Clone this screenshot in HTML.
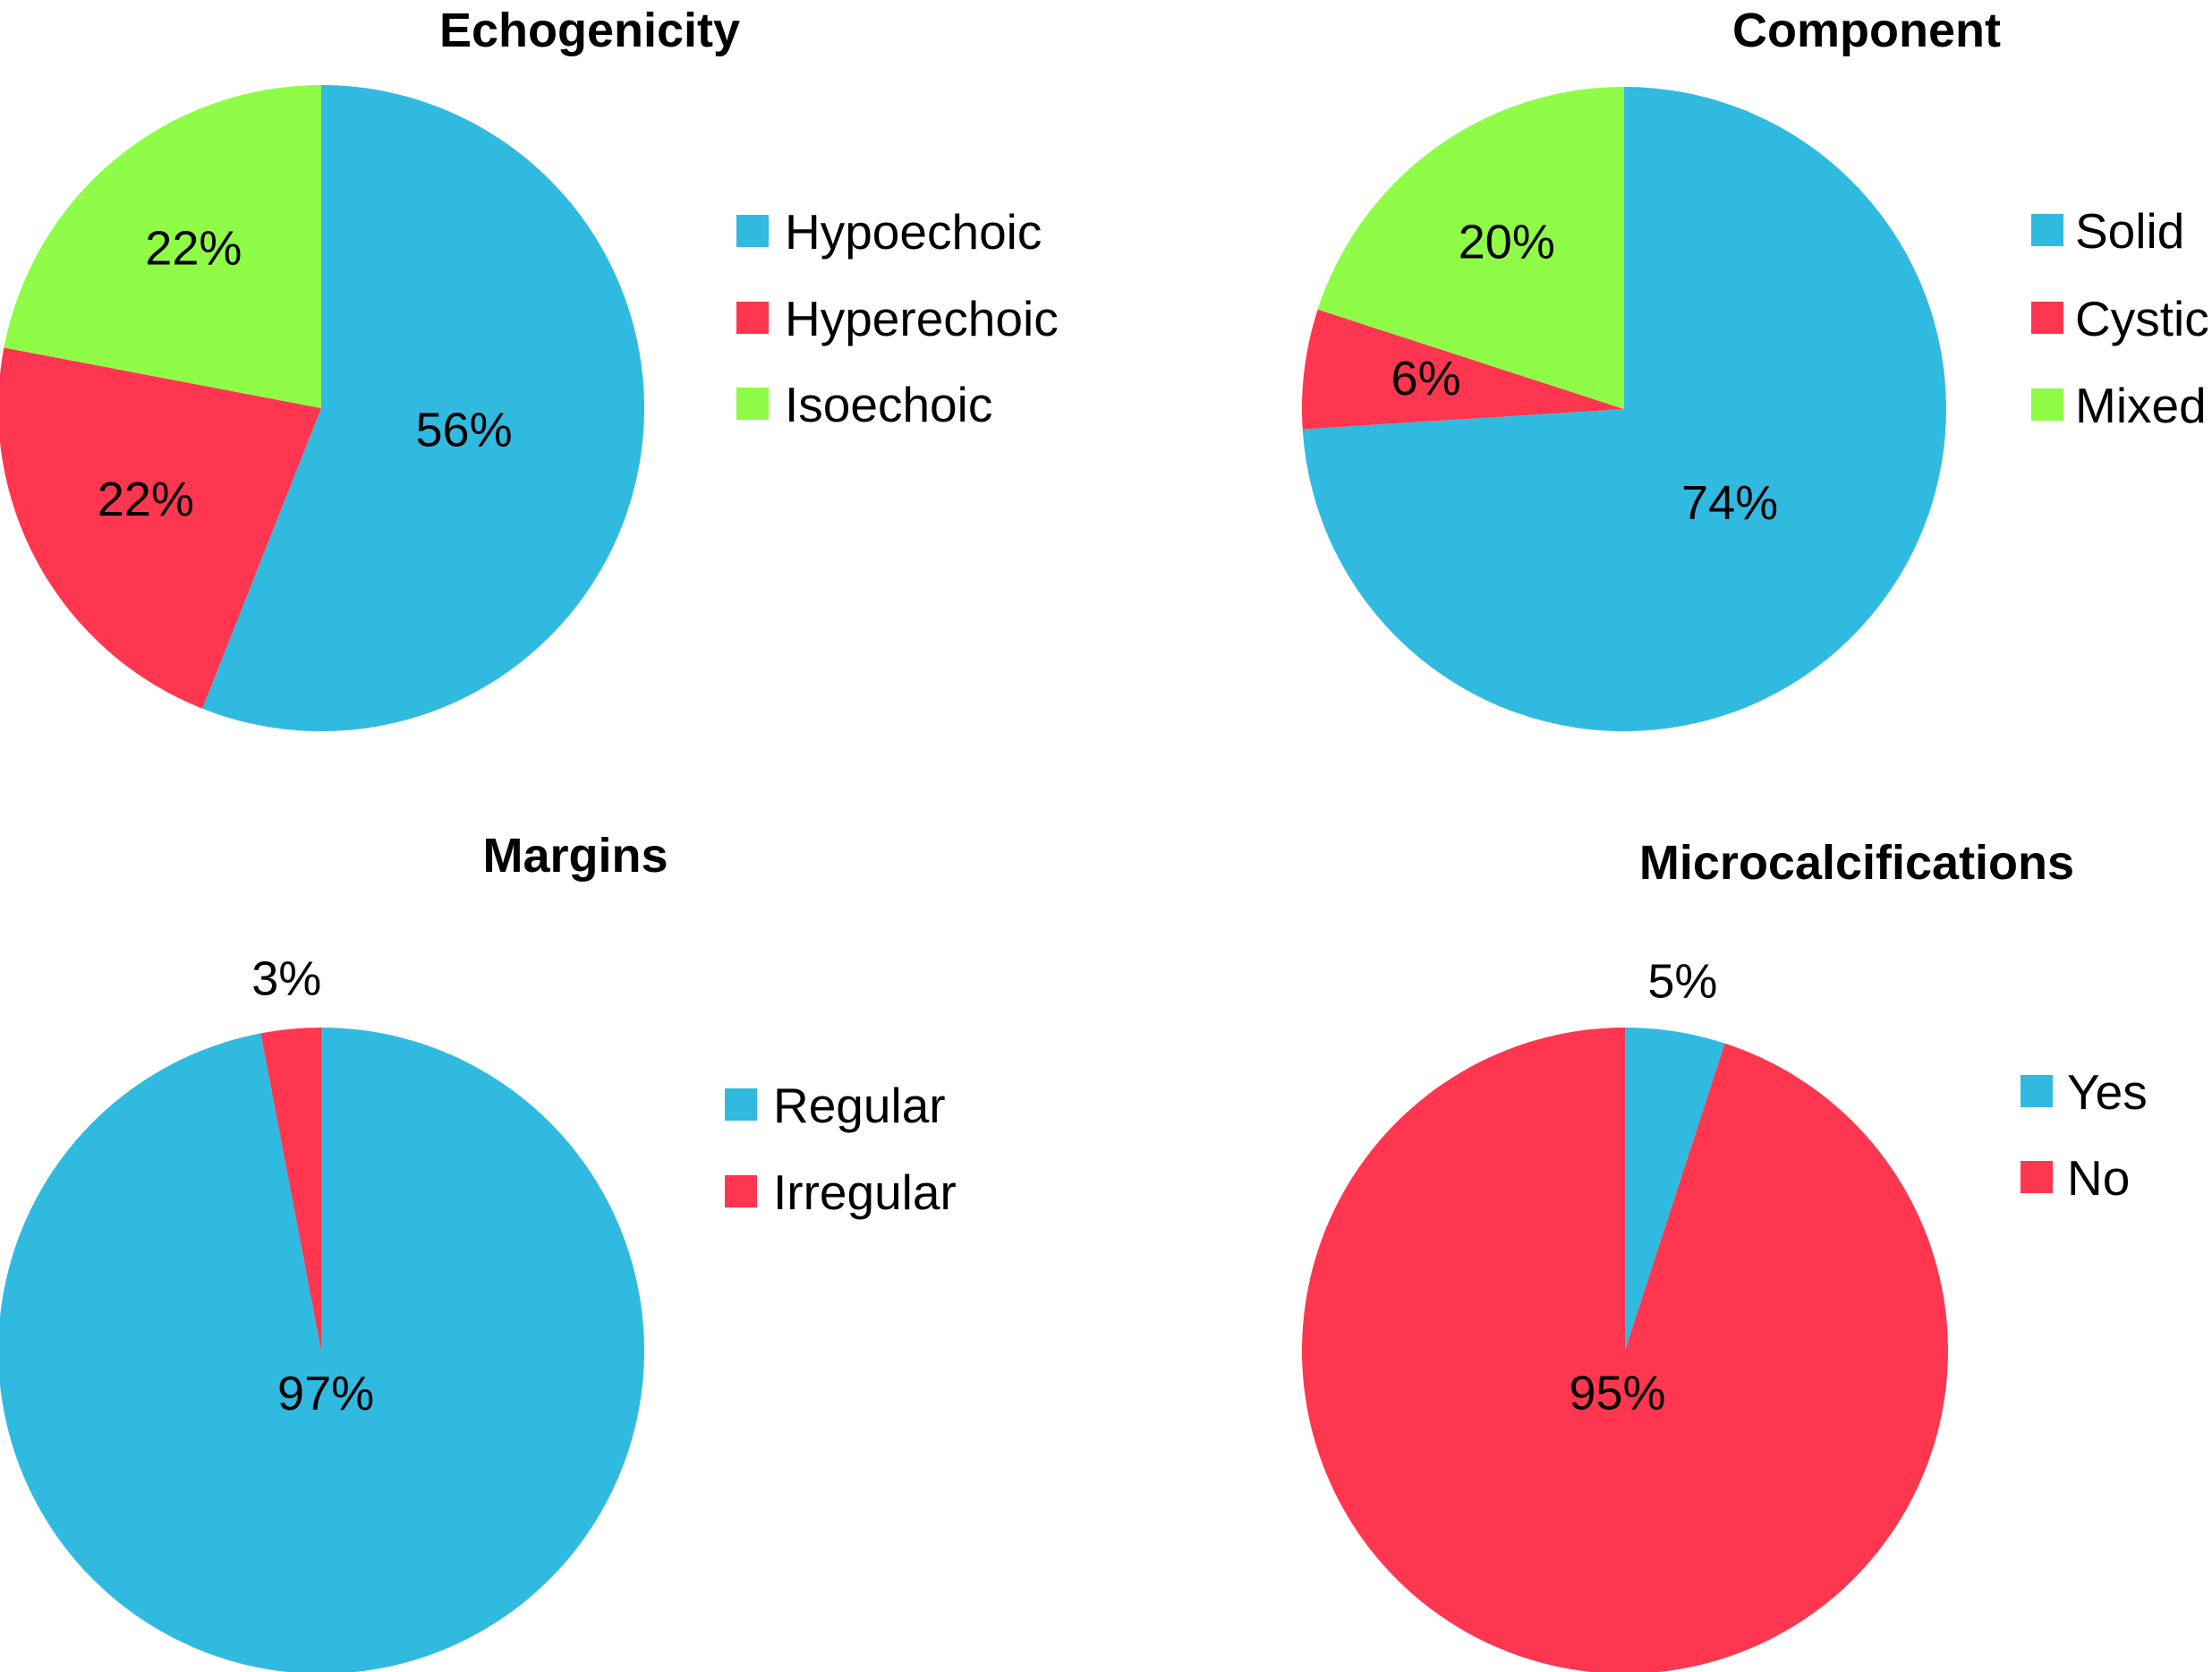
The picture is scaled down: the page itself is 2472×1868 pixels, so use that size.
<!DOCTYPE html>
<html><head><meta charset="utf-8">
<style>
html,body{margin:0;padding:0;background:#fff;}
svg{display:block;font-family:"Liberation Sans",sans-serif;}
</style></head>
<body>
<svg id="chart" width="2472" height="1868" viewBox="0 0 2472 1868"></svg>
<script>
const titles = ["Echogenicity", "Component", "Margins", "Microcalcifications"];
const categories1 = ["Hypoechoic", "Hyperechoic", "Isoechoic"];
const values1 = [56, 22, 22];
const categories2 = ["Solid", "Cystic", "Mixed"];
const values2 = [74, 6, 20];
const categories3 = ["Regular", "Irregular"];
const values3 = [97, 3];
const categories4 = ["Yes", "No"];
const values4 = [5, 95];

const colors = ["#31BAE0", "#FF364F", "#8FFC48"];
const NS = "http://www.w3.org/2000/svg";
const svg = document.getElementById("chart");

const layouts = [
  {cx:359, cy:456, r:361, tx:659, ty:52, lx:823, lt:877, ly:[258,355,451]},
  {cx:1815, cy:457, r:360, tx:2086, ty:52, lx:2270, lt:2319, ly:[257,355,452]},
  {cx:359, cy:1509, r:361, tx:643, ty:974, lx:810, lt:864, ly:[1234,1331]},
  {cx:1816, cy:1509, r:361, tx:2075, ty:982, lx:2258, lt:2310, ly:[1219,1315]}
];
const datasets = [[categories1, values1], [categories2, values2], [categories3, values3], [categories4, values4]];

function el(tag, attrs){ const e = document.createElementNS(NS, tag); for (const k in attrs) e.setAttribute(k, attrs[k]); return e; }
function pt(cx, cy, r, frac){ const a = frac * 2 * Math.PI; return [cx + r * Math.sin(a), cy - r * Math.cos(a)]; }

datasets.forEach((ds, i) => {
  const [cats, vals] = ds;
  const L = layouts[i];
  const total = vals.reduce((a, b) => a + b, 0);
  const g = el("g", {});
  
  
  svg.appendChild(g);

  const t = el("text", {x: L.tx, y: L.ty, "text-anchor": "middle", "font-size": 54, "font-weight": "bold", fill: "#000"});
  t.textContent = titles[i];
  
  
  g.appendChild(t);

  let cum = 0;
  vals.forEach((v, j) => {
    const f0 = cum / total, f1 = (cum + v) / total;
    const [x0, y0] = pt(L.cx, L.cy, L.r, f0);
    const [x1, y1] = pt(L.cx, L.cy, L.r, f1);
    const large = (f1 - f0) > 0.5 ? 1 : 0;
    const p = el("path", {d: `M${L.cx},${L.cy} L${x0},${y0} A${L.r},${L.r} 0 ${large} 1 ${x1},${y1} Z`, fill: colors[j]});
    
    
    g.appendChild(p);

    const share = v / total;
    const fr = share > 0.9 ? 0.15 : (share > 0.5 ? 0.45 : (share < 0.055 ? 1.14 : 0.62));
    const [lx, ly] = pt(L.cx, L.cy, L.r * fr, (f0 + f1) / 2);
    const lab = el("text", {x: lx, y: ly + 12, "text-anchor": "middle", "font-size": 54, fill: "#000"});
    lab.textContent = v + "%";
    
    
    g.appendChild(lab);

    const sq = el("rect", {x: L.lx, y: L.ly[j] - 18, width: 36, height: 36, fill: colors[j]});
    
    
    g.appendChild(sq);
    const lt = el("text", {x: L.lt, y: L.ly[j] + 20, "font-size": 55, fill: "#000"});
    lt.textContent = cats[j];
    
    
    g.appendChild(lt);
    cum += v;
  });
});
</script>
</body></html>
